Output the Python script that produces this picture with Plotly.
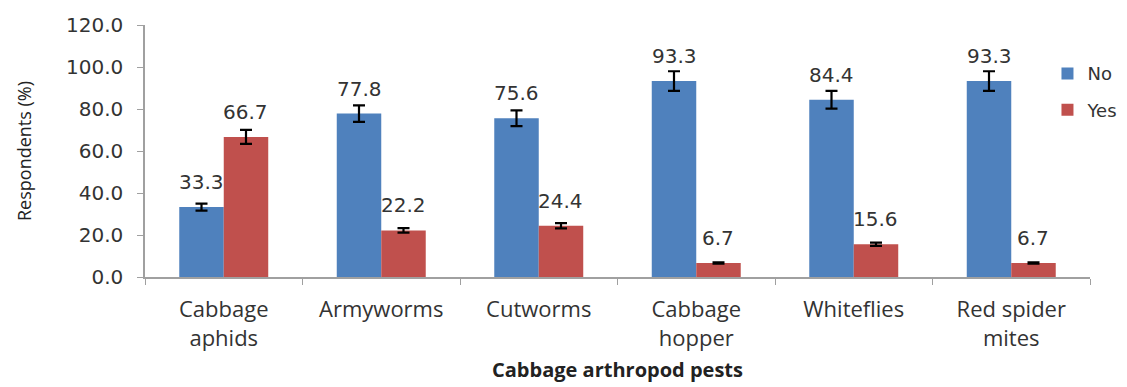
import plotly.graph_objects as go

categories = ["Cabbage<br>aphids", "Armyworms", "Cutworms", "Cabbage<br>hopper", "Whiteflies", "Red spider<br>mites"]
no_values = [33.3, 77.8, 75.6, 93.3, 84.4, 93.3]
yes_values = [66.7, 22.2, 24.4, 6.7, 15.6, 6.7]
error_percent = 5
y_ticks = [0, 20, 40, 60, 80, 100, 120]

BLUE = "#4F81BD"
RED = "#C0504D"
NUM_FONT = "DejaVu Sans"
TXT_FONT = "Open Sans"

fig = go.Figure()
for name, vals, col in [("No", no_values, BLUE), ("Yes", yes_values, RED)]:
    fig.add_trace(go.Bar(
        name=name, legendgroup=name, x=categories, y=vals,
        marker=dict(color=col, line=dict(width=0)),
        error_y=dict(type="percent", value=error_percent, color="black", thickness=2.2, width=6),
    ))

annotations = []
for vals, shift in [(no_values, -22), (yes_values, 22)]:
    for c, v in zip(categories, vals):
        annotations.append(dict(
            x=c, y=v, xref="x", yref="y", text=f"{v:.1f}", showarrow=False,
            xshift=shift, yshift=11, yanchor="bottom",
            font=dict(family=NUM_FONT, size=20, color="#333333"),
        ))

fig.update_layout(
    width=1127, height=387,
    margin=dict(l=137, r=45, t=17, b=118, autoexpand=False),
    paper_bgcolor="white", plot_bgcolor="white",
    barmode="group", bargap=0.435, bargroupgap=0,
    annotations=annotations,
    showlegend=True,
    legend=dict(x=0.955, y=0.88, xanchor="left", yanchor="top",
                font=dict(family=NUM_FONT, size=18, color="#333333"),
                bgcolor="rgba(0,0,0,0)", tracegroupgap=10),
    xaxis=dict(
        automargin=False,
        showline=True, linecolor="#A0A0A0", linewidth=1.5,
        ticks="outside", ticklen=6, tickcolor="#A0A0A0", tickson="boundaries",
        ticklabelstandoff=12,
        tickfont=dict(family=TXT_FONT, size=22, color="#333333"),
        title=dict(text="<b>Cabbage arthropod pests</b>", standoff=12,
                   font=dict(family=TXT_FONT, size=20, color="#222222")),
        showgrid=False,
    ),
    yaxis=dict(
        automargin=False,
        range=[0, 120], tickvals=y_ticks, tickformat=".1f",
        showline=True, linecolor="#A0A0A0", linewidth=1.5,
        ticks="outside", ticklen=6, tickcolor="#A0A0A0",
        ticklabelstandoff=10,
        tickfont=dict(family=NUM_FONT, size=20, color="#333333"),
        title=dict(text="Respondents (%)", standoff=30,
                   font=dict(family=TXT_FONT, size=18, color="#222222")),
        showgrid=False, zeroline=False,
    ),
)

fig.write_html("out.html")
